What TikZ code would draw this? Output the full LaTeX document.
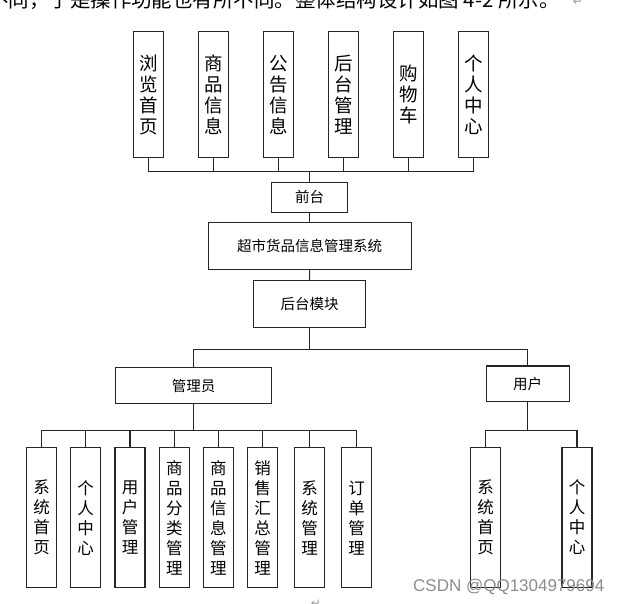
\documentclass[tikz,border=0pt]{standalone}
\usepackage{graphicx}
\usepackage{fontspec}
\newfontfamily\cjk{Noto Sans CJK SC}
\newfontfamily\wmfont{Liberation Sans}
\newfontfamily\retfont{DejaVu Sans}
\usetikzlibrary{positioning}

\tikzset{
  box/.style={draw=black!85, line width=1.1pt, inner sep=0pt, fill=white},
  topbox/.style={box, minimum width=30, minimum height=125.6, align=center, font=\fontsize{18.5}{21}\cjk},
  lowbox/.style={box, minimum width=30, minimum height=140, align=center, font=\fontsize{16.5}{20}\cjk},
  midbox/.style={box, font=\fontsize{14.5}{17}\cjk},
  wire/.style={draw=black!85, line width=1.1pt},
  retmark/.style={inner sep=0, text=black!40, font=\retfont\fontsize{12}{12}\selectfont}
}

\begin{document}
\begin{tikzpicture}[x=1pt,y=-1pt]
\useasboundingbox (0,0) rectangle (626,604);
% line of page text, cut at the top
\node[anchor=base west, inner sep=0, font=\fontsize{19.5}{21}\cjk] (para) at (-12,8)
  {\scalebox{1.05}[1]{不同，于是操作功能也有所不同。整体结构设计如图 4-2 所示。}};
\node[retmark, anchor=base] (ret1) at (578,6) {↵};

% front end
\node[topbox] (t1) at (148.3,94.5) {浏\\览\\首\\页};
\node[topbox] (t2) at (213.3,94.5) {商\\品\\信\\息};
\node[topbox] (t3) at (278.3,94.5) {公\\告\\信\\息};
\node[topbox] (t4) at (343.3,94.5) {后\\台\\管\\理};
\node[topbox] (t5) at (408.3,94.5) {购\\物\\车};
\node[topbox] (t6) at (473.3,94.5) {个\\人\\中\\心};
\node[midbox, minimum width=76, minimum height=30] (qt) at (309.7,197.3) {前台};

% system and back end
\node[midbox, minimum width=202.7, minimum height=46.6] (sys) at (309.7,246) {超市货品信息管理系统};
\node[midbox, minimum width=112.4, minimum height=47] (hm) at (309.5,303.8) {后台模块};
\node[midbox, minimum width=156, minimum height=35.6] (gly) at (193.7,385.5) {管理员};
\node[midbox, minimum width=83.3, minimum height=35.7] (yh) at (527.7,383.8) {用户};

% admin functions
\node[lowbox] (a1) at (41.7,517.7) {系\\统\\首\\页};
\node[lowbox] (a2) at (85.7,517.7) {个\\人\\中\\心};
\node[lowbox] (a3) at (130,517.7) {用\\户\\管\\理};
\node[lowbox] (a4) at (174.3,517.7) {商\\品\\分\\类\\管\\理};
\node[lowbox] (a5) at (218.3,517.7) {商\\品\\信\\息\\管\\理};
\node[lowbox] (a6) at (262.7,517.7) {销\\售\\汇\\总\\管\\理};
\node[lowbox] (a7) at (309.7,517.7) {系\\统\\管\\理};
\node[lowbox] (a8) at (356.7,517.7) {订\\单\\管\\理};

% user functions
\node[lowbox] (u1) at (485.7,517.5) {系\\统\\首\\页};
\node[lowbox] (u2) at (577,517.5) {个\\人\\中\\心};

% bus points
\coordinate (topbus) at (309.7,171.7);
\coordinate (midbus) at (309.5,349.3);
\coordinate (admbus) at (193.7,430.7);
\coordinate (usrbus) at (527.7,430.3);

\foreach \i in {1,...,6}
  \draw[wire] (t\i.south) |- (topbus);
\draw[wire] (topbus) -- (qt.north);
\draw[wire] (qt.south) -- (sys.north);
\draw[wire] (sys.south) -- (hm.north);
\draw[wire] (hm.south) -- (midbus);
\draw[wire] (gly.north) |- (midbus);
\draw[wire] (yh.north) |- (midbus);
\draw[wire] (gly.south) -- (admbus);
\foreach \i in {1,...,8}
  \draw[wire] (a\i.north) |- (admbus);
\draw[wire] (yh.south) -- (usrbus);
\draw[wire] (u1.north) |- (usrbus);
\draw[wire] (u2.north) |- (usrbus);

% paragraph mark and watermark
\node[retmark] (ret2) at (316,604) {↵};
\node[anchor=base west, inner sep=0, text=black!45, font=\wmfont\fontsize{17}{17}\selectfont] (wm) at (413,591.5) {CSDN @QQ1304979694};
\end{tikzpicture}
\end{document}
